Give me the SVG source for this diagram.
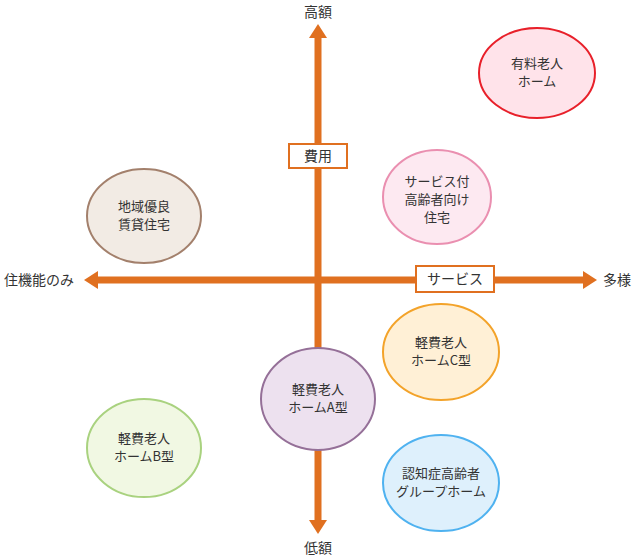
<svg xmlns="http://www.w3.org/2000/svg" width="636" height="558" viewBox="0 0 636 558">
<style>
text{font-family:"Noto Sans CJK JP","Noto Sans",sans-serif;font-size:13px;fill:#333;text-anchor:middle}
.lg{font-size:14px}
.ax{stroke:#e07020;stroke-width:7;fill:none}
.ah{fill:#e07020}
.box{fill:#fff;stroke:#e07020;stroke-width:2}
ellipse{stroke-width:2}
</style>
<rect width="636" height="558" fill="#fff"/>
<g id="connectors">
<line class="ax" x1="318" y1="36" x2="318" y2="522"/>
<polygon class="ah" points="318,24 309,38 327,38"/>
<polygon class="ah" points="318,534 309,520 327,520"/>
<line class="ax" x1="96" y1="280" x2="586" y2="280"/>
<polygon class="ah" points="84,280 98,271 98,289"/>
<polygon class="ah" points="597,280 583,271 583,289"/>
</g>
<g id="label-high"><text class="lg" x="318" y="17">高額</text></g>
<g id="label-low"><text class="lg" x="318" y="553">低額</text></g>
<g id="label-left"><text class="lg" x="39" y="285">住機能のみ</text></g>
<g id="label-right"><text class="lg" x="617" y="285">多様</text></g>
<g id="box-cost"><rect class="box" x="289" y="144" width="58" height="24"/><text class="lg" x="318" y="161">費用</text></g>
<g id="box-service"><rect class="box" x="416" y="266" width="78" height="26"/><text class="lg" x="455" y="284">サービス</text></g>
<g id="n1"><ellipse cx="537" cy="73" rx="58" ry="45" fill="#ffe3ea" stroke="#e8202a"/><text x="537" y="68">有料老人</text><text x="537" y="86">ホーム</text></g>
<g id="n2"><ellipse cx="437" cy="197" rx="54" ry="47" fill="#fde9f1" stroke="#ea8fb0"/><text x="437" y="186">サービス付</text><text x="437" y="204">高齢者向け</text><text x="437" y="222">住宅</text></g>
<g id="n3"><ellipse cx="144" cy="216" rx="57" ry="47" fill="#f2ebe4" stroke="#a3806c"/><text x="144" y="211">地域優良</text><text x="144" y="229">賃貸住宅</text></g>
<g id="n4"><ellipse cx="441" cy="352" rx="58" ry="48" fill="#fff0d6" stroke="#f3a32a"/><text x="441" y="347">軽費老人</text><text x="441" y="365">ホームC型</text></g>
<g id="n5"><ellipse cx="318" cy="399" rx="57" ry="51" fill="#ede1ef" stroke="#957098"/><text x="318" y="394">軽費老人</text><text x="318" y="412">ホームA型</text></g>
<g id="n6"><ellipse cx="144" cy="448" rx="57" ry="49" fill="#f1f8e3" stroke="#a9d27f"/><text x="144" y="443">軽費老人</text><text x="144" y="461">ホームB型</text></g>
<g id="n7"><ellipse cx="441" cy="483" rx="58" ry="48" fill="#def0fc" stroke="#4fb2f0"/><text x="441" y="478">認知症高齢者</text><text x="441" y="496">グループホーム</text></g>
</svg>
